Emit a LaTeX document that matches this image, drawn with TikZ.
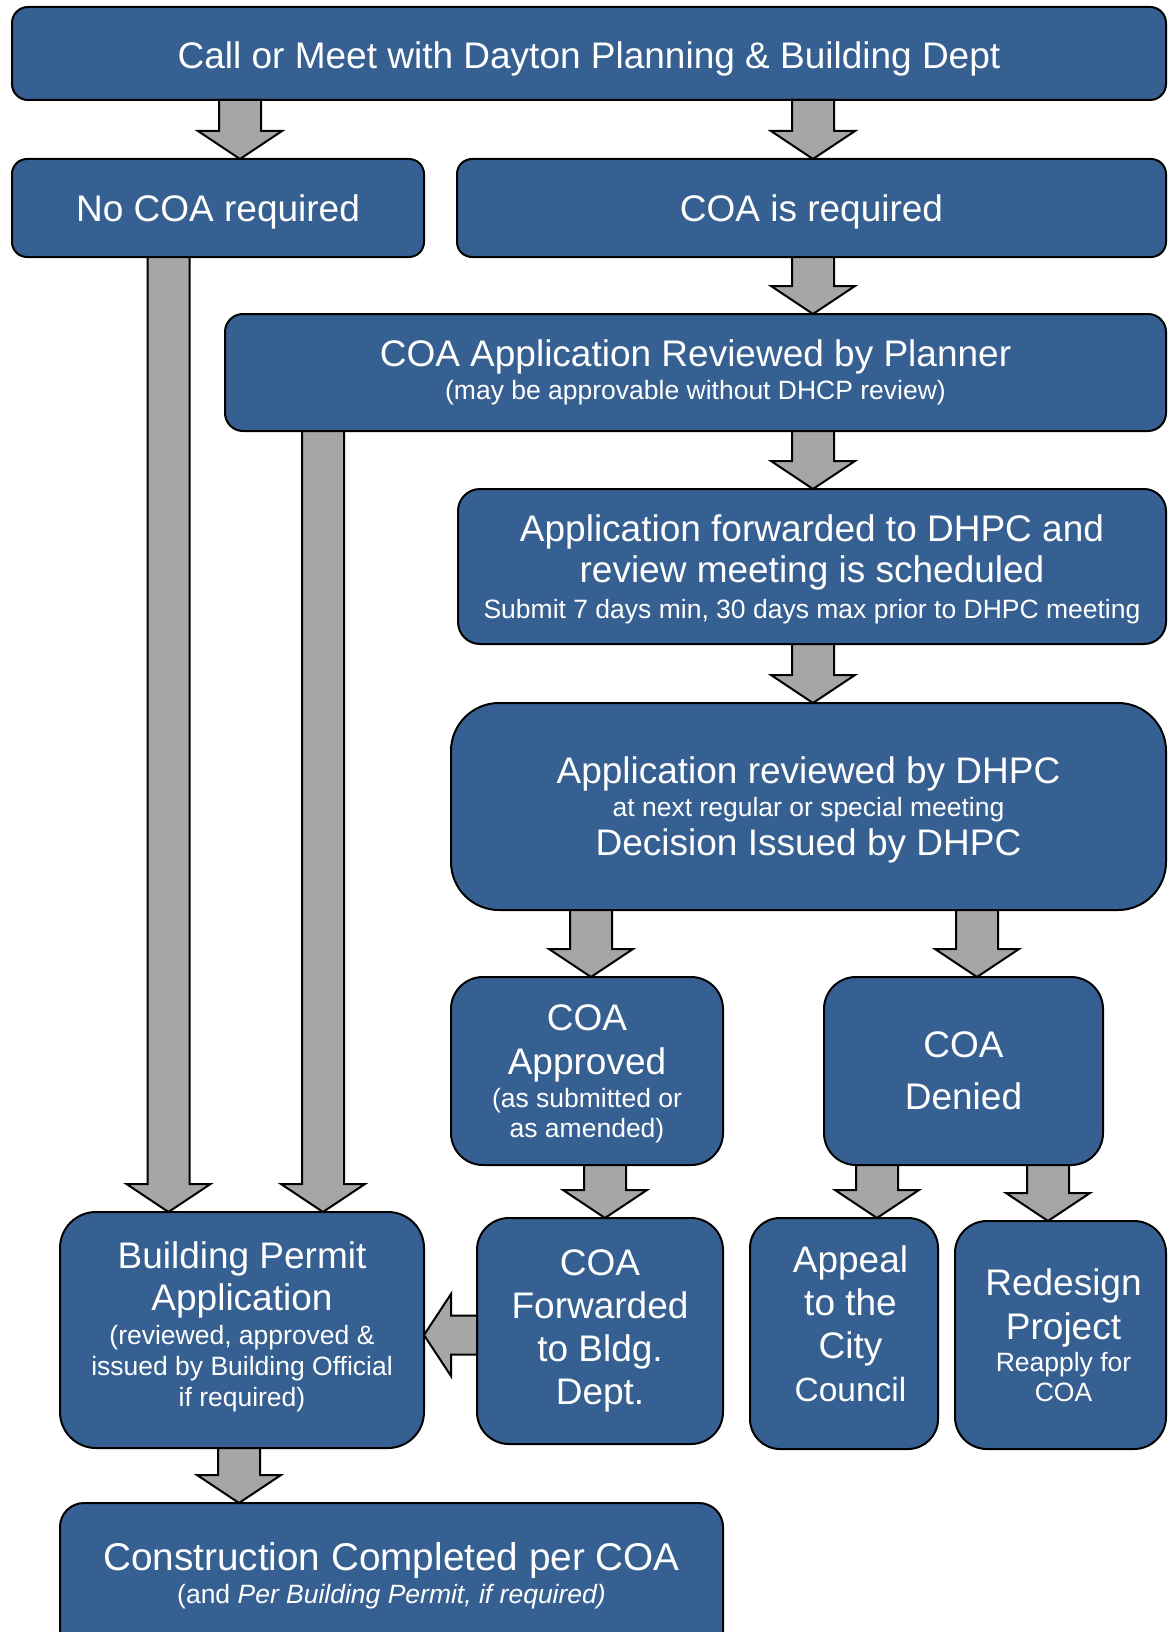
\documentclass[tikz,border=0pt]{standalone}
\usepackage{fontspec}
\setmainfont{Liberation Sans}
\usetikzlibrary{calc}
\definecolor{boxblue}{RGB}{55,96,146}
\definecolor{arrowgray}{RGB}{166,166,166}
\newcommand\bigf{\fontsize{37}{43}\selectfont}
\newcommand\smf{\fontsize{26.5}{30}\selectfont}
\newcommand\arrdown[2]{%
  \path #1 coordinate (arrS) #2 coordinate (arrT);
  \draw[barrow] let \p1=(arrS), \p2=(arrT) in
    (\x2-21pt,\y1) -- (\x2-21pt,\y2+28pt) -- (\x2-42pt,\y2+28pt) -- (\x2,\y2)
    -- (\x2+42pt,\y2+28pt) -- (\x2+21pt,\y2+28pt) -- (\x2+21pt,\y1) -- cycle;
}
\newcommand\arrleft[2]{%
  \path #1 coordinate (arrS) #2 coordinate (arrT);
  \draw[barrow] let \p1=(arrS), \p2=(arrT) in
    (\x1,\y2+19.5pt) -- (\x2+27pt,\y2+19.5pt) -- (\x2+27pt,\y2+41pt) -- (\x2,\y2)
    -- (\x2+27pt,\y2-41pt) -- (\x2+27pt,\y2-19.5pt) -- (\x1,\y2-19.5pt) -- cycle;
}
\begin{document}
\begin{tikzpicture}[x=1pt,y=-1pt,
  flowbox/.style={draw=black, line width=2pt, fill=boxblue, rounded corners=#1,
    text=white, align=center, inner sep=0pt, outer sep=0pt, font=\bigf},
  flowbox/.default=16pt,
  barrow/.style={draw=black, line width=2pt, fill=arrowgray, line join=miter}]
\useasboundingbox (0,0) rectangle (1168,1632);
\clip (0,0) rectangle (1168,1632);

\node[flowbox=16pt, minimum width=1154pt, minimum height=93pt, text height=37pt] (top) at (589,53.5)
  {Call or Meet with Dayton Planning \& Building Dept};
\node[flowbox=15pt, minimum width=412pt, minimum height=98pt, text height=35pt] (nocoa) at (218,208)
  {No COA required};
\node[flowbox=15pt, minimum width=709pt, minimum height=98pt, text height=35pt] (coareq) at (811.5,208)
  {COA is required};
\node[flowbox=18pt, minimum width=941pt, minimum height=117pt] (coaapp) at (695.5,372.5)
  {COA Application Reviewed by Planner\\[-10.5pt]{\smf (may be approvable without DHCP review)}};
\node[flowbox=22pt, minimum width=708pt, minimum height=155pt, text depth=-3.4pt] (appfwd) at (812,566.5)
  {Application forwarded to DHPC and\\[-2pt]review meeting is scheduled\\[-7.5pt]{\smf Submit 7 days min, 30 days max prior to DHPC meeting}};
\node[flowbox=48pt, minimum width=715pt, minimum height=207pt, text depth=-1.6pt] (apprev) at (808.5,806.5)
  {Application reviewed by DHPC\\[-10.5pt]{\smf at next regular or special meeting}\\[-3.5pt]Decision Issued by DHPC};
\node[flowbox=32pt, minimum width=272pt, minimum height=188pt, text depth=-3.4pt] (approved) at (587,1071)
  {COA\\[1pt]Approved\\[-10.5pt]{\smf (as submitted or}\\[-13pt]{\smf as amended)}};
\node[flowbox=32pt, minimum width=279pt, minimum height=188pt, text depth=-8pt] (denied) at (963.5,1071)
  {COA\\[9pt]Denied};
\node[flowbox=32pt, minimum width=246pt, minimum height=226pt] (fwd) at (600,1331)
  {COA\\Forwarded\\to Bldg.\\Dept.};
\node[flowbox=30pt, minimum width=188pt, minimum height=231pt, text depth=20pt] (appeal) at (844,1333.5)
  {\hspace*{13pt}Appeal\\\hspace*{13pt}to the\\\hspace*{13pt}City\\\hspace*{13pt}{\fontsize{33.5}{40}\selectfont Council}};
\node[flowbox=32pt, minimum width=211pt, minimum height=228pt] (redesign) at (1060.5,1335)
  {\hspace*{6pt}Redesign\\[1pt]\hspace*{6pt}Project\\[-10.5pt]\hspace*{6pt}{\smf Reapply for}\\[-13pt]\hspace*{6pt}{\smf COA}};
\node[flowbox=36pt, minimum width=364pt, minimum height=236pt, text depth=11.6pt] (bp) at (242,1330)
  {Building Permit\\[-1pt]Application\\[-9.5pt]{\smf (reviewed, approved \&}\\[-12pt]{\smf issued by Building Official}\\[-12pt]{\smf if required)}};
\node[flowbox=24pt, minimum width=663pt, minimum height=152pt, text depth=11.6pt] (constr) at (391.5,1579)
  {{\fontsize{38.7}{43}\selectfont Construction Completed per COA}\\[-10.5pt]{\smf (and \textit{Per Building Permit, if required)}}};

\arrdown{(top.south)}{($(nocoa.north)+(22,0)$)}
\arrdown{(top.south)}{($(coareq.north)+(1.5,0)$)}
\arrdown{(coareq.south)}{($(coaapp.north)+(117.5,0)$)}
\arrdown{(coaapp.south)}{($(appfwd.north)+(1,0)$)}
\arrdown{(appfwd.south)}{($(apprev.north)+(4.5,0)$)}
\arrdown{(apprev.south)}{($(approved.north)+(4,0)$)}
\arrdown{(apprev.south)}{($(denied.north)+(13.5,0)$)}
\arrdown{(approved.south)}{($(fwd.north)+(5,0)$)}
\arrdown{(denied.south)}{($(appeal.north)+(33,0)$)}
\arrdown{(denied.south)}{($(redesign.north)+(-12.5,0)$)}
\arrdown{(nocoa.south)}{($(bp.north)+(-73.5,0)$)}
\arrdown{(coaapp.south)}{($(bp.north)+(81,0)$)}
\arrdown{(bp.south)}{($(constr.north)+(-152.5,0)$)}
\arrleft{(fwd.west)}{($(bp.east)+(0,5)$)}
\end{tikzpicture}
\end{document}
